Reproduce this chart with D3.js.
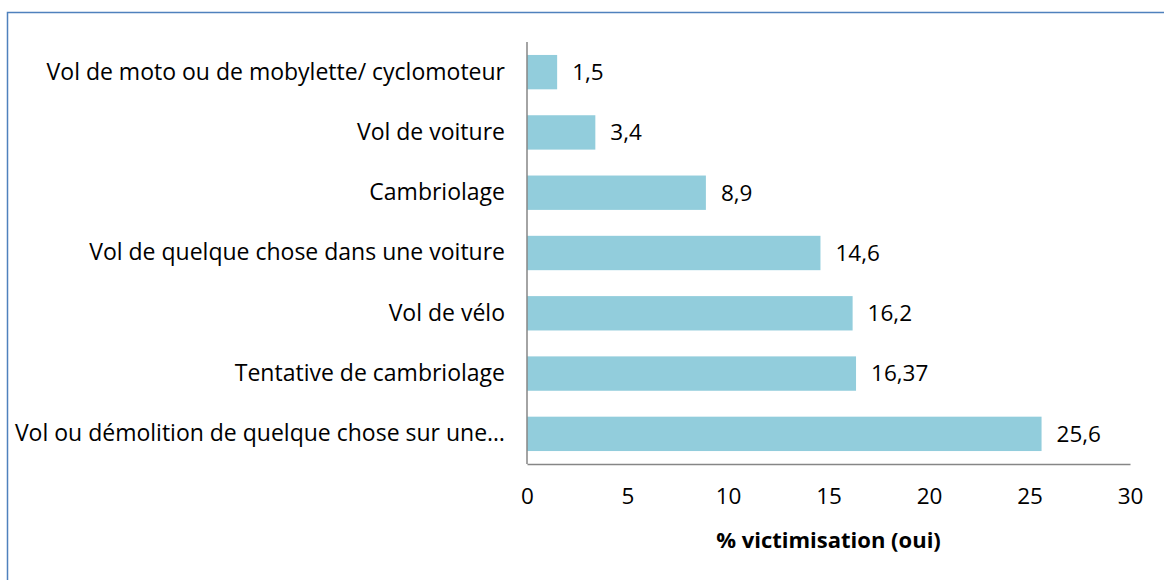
<!DOCTYPE html>
<html>
<head>
<meta charset="utf-8">
<script src="https://cdn.jsdelivr.net/npm/d3@7"></script>
<style>
  html, body { margin: 0; padding: 0; background: #fff; }
  svg { display: block; }
  text { font-family: "Open Sans", Lato, sans-serif; fill: #000; }
</style>
</head>
<body>
<svg id="chart" width="1164" height="580"></svg>
<script>
const categories = [
  "Vol de moto ou de mobylette/ cyclomoteur",
  "Vol de voiture",
  "Cambriolage",
  "Vol de quelque chose dans une voiture",
  "Vol de vélo",
  "Tentative de cambriolage",
  "Vol ou démolition de quelque chose sur une…"
];
const values = [1.5, 3.4, 8.9, 14.6, 16.2, 16.37, 25.6];
const valueLabels = ["1,5", "3,4", "8,9", "14,6", "16,2", "16,37", "25,6"];
const xTicks = [0, 5, 10, 15, 20, 25, 30];
const xTitle = "% victimisation (oui)";

const FONT = "'Open Sans', Lato, sans-serif";
const FS = 22.5;

const svg = d3.select("#chart");

// outer border (clipped at right/bottom like the reference)
svg.append("rect")
  .attr("x", 7.5).attr("y", 12.5)
  .attr("width", 1200).attr("height", 700)
  .attr("fill", "none").attr("stroke", "#4F81BD").attr("stroke-width", 1.5);

const pLeft = 527, pRight = 1130, pTop = 42, pBottom = 464;

const x = d3.scaleLinear().domain([0, 30]).range([pLeft, pRight]);
const y = d3.scaleBand().domain(categories).range([pTop, pBottom]).paddingInner(0.43).paddingOuter(0.215);

// bars
svg.selectAll("rect.bar").data(values).enter().append("rect")
  .attr("class", "bar")
  .attr("x", x(0))
  .attr("y", (d, i) => y(categories[i]))
  .attr("width", d => x(d) - x(0))
  .attr("height", y.bandwidth())
  .attr("fill", "#92CDDC");

// value labels
svg.selectAll("text.val").data(values).enter().append("text")
  .attr("class", "val")
  .attr("x", d => x(d) + 15)
  .attr("y", (d, i) => y(categories[i]) + y.bandwidth() / 2)
  .attr("dy", "0.35em")
  .attr("font-size", FS)
  .text((d, i) => valueLabels[i]);

// y axis line + category labels
svg.append("line")
  .attr("x1", pLeft).attr("x2", pLeft).attr("y1", pTop).attr("y2", pBottom)
  .attr("stroke", "#868686").attr("stroke-width", 1.5);

const yAxis = d3.axisLeft(y).tickSize(0).tickPadding(22);
const yg = svg.append("g").attr("transform", `translate(${pLeft},0)`).call(yAxis);
yg.select(".domain").remove();
yg.selectAll("text").attr("font-size", FS + 0.5).attr("font-family", FONT).attr("fill", "#000");

// x axis
const xAxis = d3.axisBottom(x).tickValues(xTicks).tickSize(0).tickPadding(24).tickFormat(d3.format("d"));
const xg = svg.append("g").attr("transform", `translate(0,${pBottom})`).call(xAxis);
xg.select(".domain").attr("stroke", "#868686").attr("stroke-width", 1.5);
xg.selectAll("text").attr("font-size", FS).attr("font-family", FONT).attr("fill", "#000");

// x title
svg.append("text")
  .attr("x", (pLeft + pRight) / 2)
  .attr("y", 540)
  .attr("dy", "0.35em")
  .attr("text-anchor", "middle")
  .attr("font-size", 22)
  .attr("font-weight", "bold")
  .text(xTitle);
</script>
</body>
</html>
